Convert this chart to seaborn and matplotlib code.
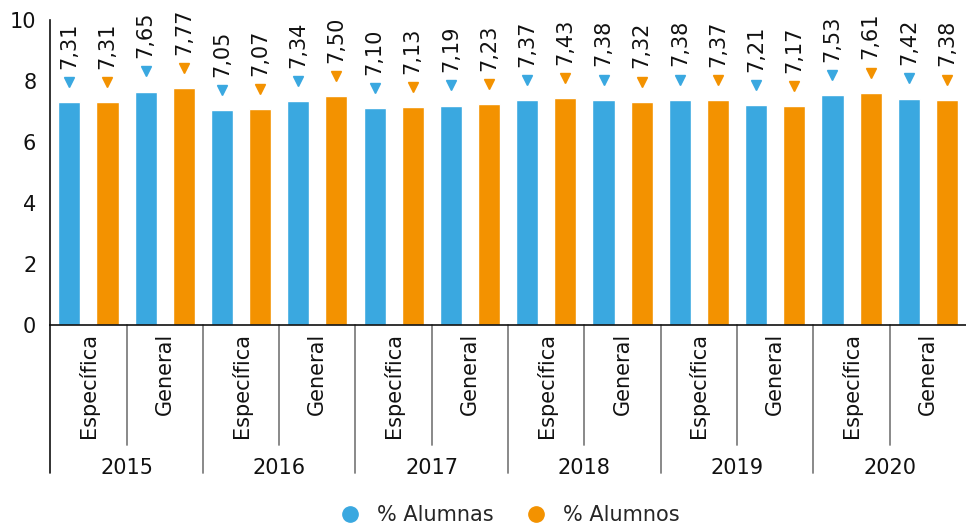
import matplotlib
matplotlib.use("Agg")
import matplotlib.pyplot as plt
import matplotlib.transforms as mtransforms
from matplotlib.lines import Line2D
import pandas as pd
import seaborn as sns

years = ["2015", "2016", "2017", "2018", "2019", "2020"]
types = ["Específica", "General"]
alumnas = [7.31, 7.65, 7.05, 7.34, 7.10, 7.19, 7.37, 7.38, 7.38, 7.21, 7.53, 7.42]
alumnos = [7.31, 7.77, 7.07, 7.50, 7.13, 7.23, 7.43, 7.32, 7.37, 7.17, 7.61, 7.38]
series_names = ["% Alumnas", "% Alumnos"]
colors = ["#3AA8E0", "#F39200"]

cats = [f"{y}|{t}" for y in years for t in types]
df = pd.DataFrame({
    "cat": cats * 2,
    "serie": [series_names[0]] * len(cats) + [series_names[1]] * len(cats),
    "valor": alumnas + alumnos,
})

sns.set_style("white")
plt.rcParams["font.family"] = ["DejaVu Sans"]
FS = 15

fig = plt.figure(figsize=(9.66, 5.24), dpi=100)
ax = fig.add_axes([0.052, 0.380, 0.948, 0.582])

sns.barplot(data=df, x="cat", y="valor", hue="serie", order=cats,
            hue_order=series_names, palette=colors, width=1.0, gap=0.42,
            saturation=1, errorbar=None, legend=False, ax=ax)

# value markers and rotated labels above each bar
marker_shift = ax.transData + mtransforms.ScaledTranslation(0, 14.5 / 72, fig.dpi_scale_trans)
for cont, col in zip(ax.containers, colors):
    for bar in cont:
        xc = bar.get_x() + bar.get_width() / 2
        v = bar.get_height()
        ax.plot([xc], [v], marker="v", markersize=7, color=col,
                linestyle="none", clip_on=False, transform=marker_shift)
        ax.annotate(f"{v:.2f}".replace(".", ","), xy=(xc, v), xytext=(0, 24),
                    textcoords="offset points", rotation=90, ha="center",
                    va="bottom", fontsize=FS, color="#111111", annotation_clip=False)

ax.set_xlim(-0.5, len(cats) - 0.5)
ax.set_ylim(0, 10)
ax.set_yticks([0, 2, 4, 6, 8, 10])
ax.tick_params(axis="y", labelsize=FS, length=5, width=1, color="#333333", pad=5,
               labelcolor="#111111")
ax.set_xticks(range(len(cats)))
ax.set_xticklabels([t for _ in years for t in types], rotation=90, fontsize=FS,
                   color="#111111")
ax.tick_params(axis="x", length=0, pad=6)
ax.set_xlabel("")
ax.set_ylabel("")

for side in ["top", "right"]:
    ax.spines[side].set_visible(False)
for side in ["left", "bottom"]:
    ax.spines[side].set_color("#111111")
    ax.spines[side].set_linewidth(1.2)

trans = mtransforms.blended_transform_factory(ax.transData, ax.transAxes)
# left spine extends down through the category area
ax.plot([-0.5, -0.5], [0, -0.485], transform=trans, color="#111111", lw=1.2, clip_on=False)
for i in range(len(cats) - 1):
    xb = i + 0.5
    depth = -0.393 if i % 2 == 0 else -0.485
    ax.plot([xb, xb], [0, depth], transform=trans, color="#808080", lw=1.3, clip_on=False)

for j, y in enumerate(years):
    ax.text(2 * j + 0.5, -0.469, y, transform=trans, ha="center", va="center",
            fontsize=FS, color="#111111")

handles = [Line2D([], [], marker="o", linestyle="none", markersize=11,
                  markerfacecolor=c, markeredgecolor=c) for c in colors]
fig.legend(handles, series_names, loc="lower center", bbox_to_anchor=(0.522, -0.038),
           ncol=2, frameon=False, fontsize=FS, handletextpad=0.3, columnspacing=1.0)

fig.savefig("out.png", dpi=100)
